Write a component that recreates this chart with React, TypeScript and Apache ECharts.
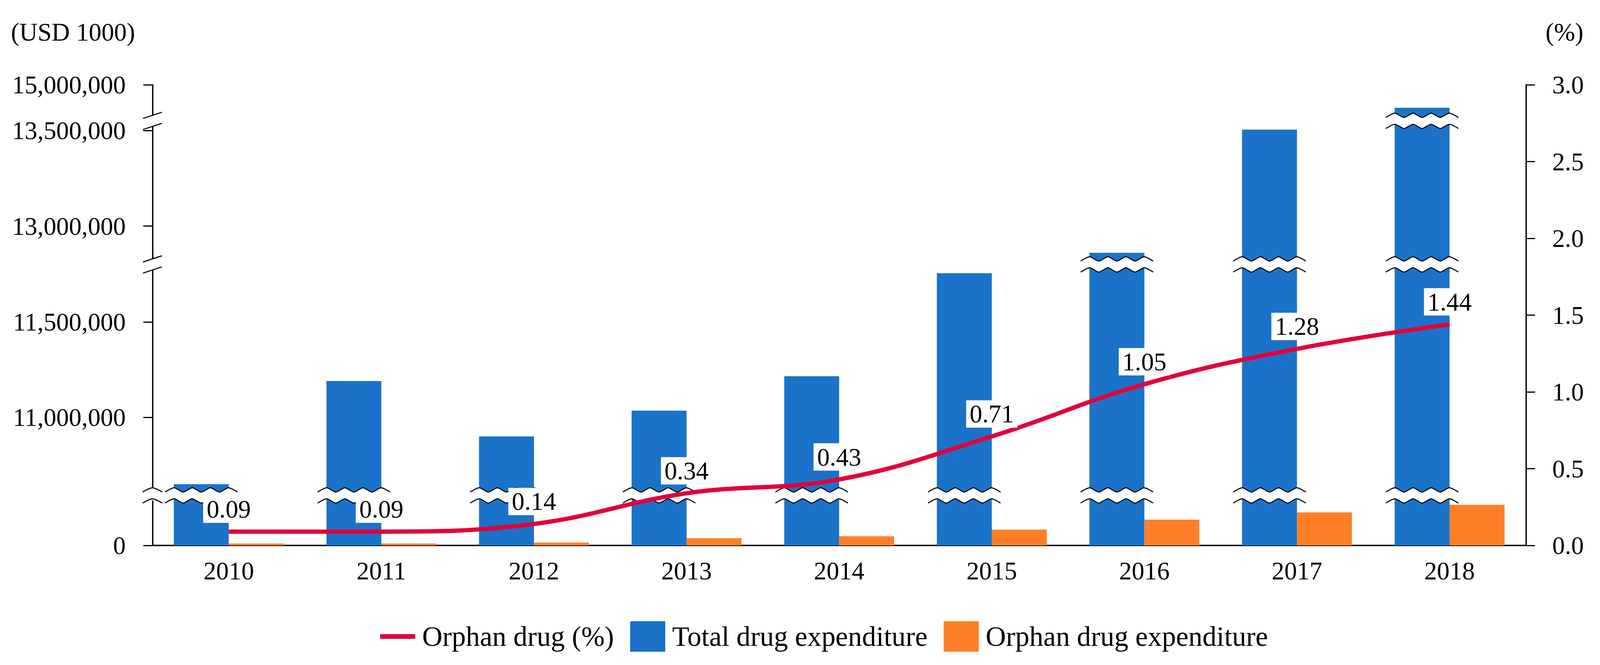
import React, { useEffect, useRef } from "react";
import * as echarts from "echarts";

// ---- data ----
const years = ["2010", "2011", "2012", "2013", "2014", "2015", "2016", "2017", "2018"];
const totalExpenditure = [10650000, 11190000, 10900000, 11035000, 11215000, 11755000, 12860000, 13505000, 14880000];
const orphanExpenditure = [10000, 10000, 15000, 38000, 48000, 83000, 135000, 173000, 213000];
const orphanPct = [0.09, 0.09, 0.14, 0.34, 0.43, 0.71, 1.05, 1.28, 1.44];
const leftTicks = [0, 11000000, 11500000, 13000000, 13500000, 15000000];
const axisBreakStarts = [233000, 11772000, 13522000];
const axisBreakEnds = [10620000, 12828000, 14840000];

const FONT = "'Liberation Serif', 'DejaVu Serif', serif";
const BLUE = "#1A73C9";
const ORANGE = "#FF7F27";
const RED = "#E2003A";
const BAR_CATEGORY_GAP = 0.28;

const fmtThousands = (v: number) => String(Math.round(v)).replace(/\B(?=(\d{3})+(?!\d))/g, ",");

export default function App() {
  const ref = useRef<HTMLDivElement>(null);

  useEffect(() => {
    const el = ref.current;
    if (!el) return;
    const W = el.clientWidth || 4555;
    const H = el.clientHeight || 1702;
    const sx = W / 4555;
    const sy = H / 1702;
    const fs = Math.min(sx, sy);
    const X = (v: number) => v * sx;
    const Y = (v: number) => v * sy;
    const F = (v: number) => Math.round(v * fs * 10) / 10;

    const chart = echarts.init(el, null, { renderer: "svg" });

    const breaks = axisBreakStarts.map((s, i) => ({ start: s, end: axisBreakEnds[i], gap: "2.4%" }));

    const titleTexts = [
      {
        type: "text",
        x: X(31),
        y: Y(82),
        style: { text: "(USD 1000)", font: `${F(72)}px ${FONT}`, fill: "#000", verticalAlign: "middle", align: "left" },
      },
      {
        type: "text",
        x: X(4400),
        y: Y(82),
        style: { text: "(%)", font: `${F(72)}px ${FONT}`, fill: "#000", verticalAlign: "middle", align: "left" },
      },
    ];

    const option: any = {
      animation: false,
      backgroundColor: "#ffffff",
      textStyle: { fontFamily: FONT, color: "#000" },
      grid: { left: X(434), right: X(211), top: Y(217), bottom: Y(306) },
      legend: {
        left: X(1070),
        top: Y(1585),
        itemWidth: X(100),
        itemHeight: Y(78),
        itemGap: X(46),
        textStyle: { fontFamily: FONT, fontSize: F(80), color: "#000", padding: [0, 0, 0, X(14)] },
        data: [
          { name: "Orphan drug (%)", itemStyle: { color: "rgba(0,0,0,0)", borderWidth: 0 }, lineStyle: { color: RED, width: Y(12) } },
          { name: "Total drug expenditure", icon: "rect" },
          { name: "Orphan drug expenditure", icon: "rect" },
        ],
      },
      graphic: titleTexts,
      xAxis: {
        type: "category",
        data: years,
        axisLine: { lineStyle: { color: "#000", width: 3.5 } },
        axisTick: { show: false },
        axisLabel: { color: "#000", fontSize: F(72), fontFamily: FONT, margin: Y(32) },
      },
      yAxis: [
        {
          type: "value",
          min: 0,
          max: 15000000,
          breaks,
          breakArea: { show: false, expandOnClick: false },
          splitLine: { show: false },
          axisLine: { show: true, lineStyle: { color: "#000", width: 3.5 } },
          axisTick: { show: true, inside: false, length: X(26), lineStyle: { color: "#000", width: 3 }, customValues: leftTicks },
          axisLabel: {
            color: "#000",
            fontSize: F(72),
            fontFamily: FONT,
            margin: X(76),
            customValues: leftTicks,
            formatter: (v: number) => fmtThousands(v),
          },
        },
        {
          type: "value",
          position: "right",
          min: 0,
          max: 3,
          interval: 0.5,
          splitLine: { show: false },
          axisLine: { show: true, lineStyle: { color: "#000", width: 3.5 } },
          axisTick: { show: true, inside: false, length: X(26), lineStyle: { color: "#000", width: 3 } },
          axisLabel: {
            color: "#000",
            fontSize: F(72),
            fontFamily: FONT,
            margin: X(75),
            formatter: (v: number) => v.toFixed(1),
          },
        },
      ],
      series: [
        {
          name: "Orphan drug (%)",
          type: "line",
          yAxisIndex: 1,
          data: orphanPct,
          smooth: 0.4,
          z: 10,
          symbol: "circle",
          symbolSize: 1,
          showSymbol: true,
          lineStyle: { color: RED, width: Y(11) },
          itemStyle: { color: RED },
          label: {
            show: true,
            position: "top",
            distance: Y(22),
            color: "#000",
            fontSize: F(72),
            fontFamily: FONT,
            lineHeight: Y(62),
            backgroundColor: "#ffffff",
            padding: [Y(4), X(10)],
            formatter: (p: any) => Number(p.value).toFixed(2),
          },
        },
        {
          name: "Total drug expenditure",
          type: "bar",
          yAxisIndex: 0,
          data: totalExpenditure,
          barGap: "0%",
          barCategoryGap: `${BAR_CATEGORY_GAP * 100}%`,
          itemStyle: { color: BLUE },
        },
        {
          name: "Orphan drug expenditure",
          type: "bar",
          yAxisIndex: 0,
          data: orphanExpenditure,
          itemStyle: { color: ORANGE },
        },
      ],
    };

    chart.setOption(option);

    // ---- break marks, positioned through the chart's own axes ----
    const toY = (v: number) => chart.convertToPixel({ yAxisIndex: 0 } as any, v) as unknown as number;
    const toX = (i: number) => chart.convertToPixel({ xAxisIndex: 0 } as any, i) as unknown as number;
    const band = toX(1) - toX(0);
    const bw = (band * (1 - BAR_CATEGORY_GAP)) / 2;
    const axisX = toX(0) - band / 2;
    const amp = Y(5.5);
    const halfPeriod = X(25);
    const stroke = 3 * fs;

    const wave = (x0: number, x1: number, y: number) => {
      const n = Math.max(2, Math.round((x1 - x0) / halfPeriod));
      const pts: number[][] = [];
      for (let k = 0; k <= n; k++) pts.push([x0 + ((x1 - x0) * k) / n, y + (k % 2 === 0 ? amp : -amp)]);
      return pts;
    };

    const marks: any[] = [];
    const addWaveBreak = (x0: number, x1: number, yLow: number, yHigh: number) => {
      const top = wave(x0, x1, yHigh);
      const bottom = wave(x0, x1, yLow);
      marks.push({
        type: "polygon",
        z: 5,
        shape: { points: top.concat(bottom.slice().reverse()) },
        style: { fill: "#fff" },
        silent: true,
      });
      [top, bottom].forEach((pts) =>
        marks.push({
          type: "polyline",
          z: 6,
          shape: { points: pts, smooth: 0.25 },
          style: { stroke: "#000", lineWidth: stroke, fill: null },
          silent: true,
        })
      );
    };

    axisBreakStarts.forEach((bs, j) => {
      const be = axisBreakEnds[j];
      const yLow = toY(bs);
      const yHigh = toY(be);
      if (j === 0) {
        // lowest break: wavy marks on the axis, as in the reference
        addWaveBreak(axisX - X(28), axisX + X(28), yLow, yHigh);
      } else {
        marks.push({
          type: "rect",
          z: 5,
          shape: { x: axisX - X(6), y: yHigh, width: X(12), height: yLow - yHigh },
          style: { fill: "#fff" },
          silent: true,
        });
        [yLow, yHigh].forEach((yy) => {
          marks.push({
            type: "line",
            z: 6,
            shape: { x1: axisX - X(27), y1: yy + Y(8), x2: axisX + X(27), y2: yy - Y(8) },
            style: { stroke: "#000", lineWidth: stroke },
            silent: true,
          });
        });
      }
      // wavy breaks on bars that cross this break
      totalExpenditure.forEach((v, i) => {
        if (v <= be) return;
        const cx = toX(i);
        addWaveBreak(cx - bw - bw * 0.16, cx + bw * 0.16, yLow, yHigh);
      });
    });

    chart.setOption({ graphic: (titleTexts as any[]).concat(marks) });

    return () => chart.dispose();
  }, []);

  return (
    <div
      ref={ref}
      style={{ position: "fixed", left: 0, top: 0, width: "100vw", height: "100vh", background: "#fff" }}
    />
  );
}
